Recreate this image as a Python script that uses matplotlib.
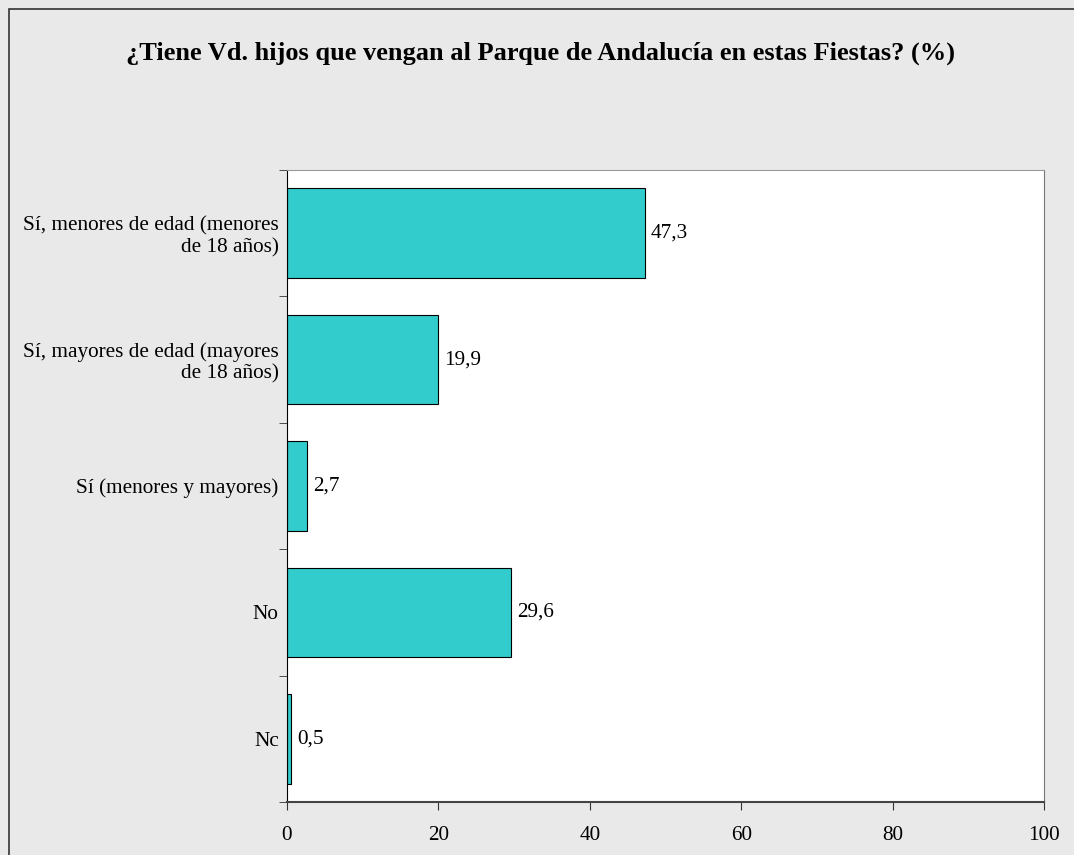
import matplotlib
matplotlib.use("Agg")
import matplotlib.pyplot as plt
from matplotlib.patches import Rectangle

categories = ["Sí, menores de edad (menores\nde 18 años)",
              "Sí, mayores de edad (mayores\nde 18 años)",
              "Sí (menores y mayores)",
              "No",
              "Nc"]
values = [47.3, 19.9, 2.7, 29.6, 0.5]
labels = ["47,3", "19,9", "2,7", "29,6", "0,5"]
xticks = [0, 20, 40, 60, 80, 100]

plt.rcParams['font.family'] = ['Liberation Serif', 'DejaVu Serif']

W, H = 1074, 855
fig = plt.figure(figsize=(W/100, H/100), dpi=100)
fig.patch.set_facecolor('#e9e9e9')
fig.add_artist(Rectangle((9/W, -0.1), 1.2, (H-9)/H + 0.1, transform=fig.transFigure,
                         fill=False, edgecolor='#333333', linewidth=1.2))

l, r, t, b = 287, 1044, 170, 802
ax = fig.add_axes([l/W, 1 - b/H, (r-l)/W, (b-t)/H])
ax.set_facecolor('white')

fs = 15.3
ypos = list(range(len(categories)))
ax.barh(ypos, values, height=0.71, color='#33CCCC', edgecolor='black', linewidth=0.8)
for y, v, s in zip(ypos, values, labels):
    ax.text(v + 0.8, y, s, va='center', ha='left', fontsize=fs)

ax.set_ylim(len(categories) - 0.5, -0.5)
ax.set_xlim(0, 100)
ax.set_xticks(xticks)
ax.set_xticklabels([str(x) for x in xticks], fontsize=fs)
ax.set_yticks(ypos)
ax.set_yticklabels(categories, fontsize=fs, ha='right', multialignment='right',
                   linespacing=1.15)
ax.tick_params(axis='y', length=0, pad=6)
ax.set_yticks([i - 0.5 for i in range(len(categories) + 1)], minor=True)
ax.tick_params(axis='y', which='minor', length=6, direction='out', color='#333333')
ax.tick_params(axis='x', length=6, direction='out', color='#333333', pad=11)

ax.spines['left'].set_color('black')
ax.spines['bottom'].set_color('#444444')
ax.spines['bottom'].set_linewidth(1.5)
ax.spines['top'].set_color('#999999')
ax.spines['right'].set_color('#777777')

fig.text(541/W, 1 - 53/H, "¿Tiene Vd. hijos que vengan al Parque de Andalucía en estas Fiestas? (%)",
         ha='center', va='center', fontsize=19, fontweight='bold')

fig.savefig('out.png', dpi=100, facecolor=fig.get_facecolor())
